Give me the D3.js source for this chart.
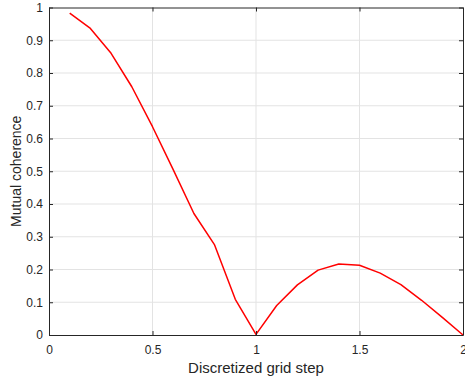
<!DOCTYPE html>
<html>
<head>
<meta charset="utf-8">
<script src="https://cdn.jsdelivr.net/npm/d3@7"></script>
<style>
  html, body { margin: 0; padding: 0; background: #fff; }
  svg { display: block; font-family: "Liberation Sans", Arial, Helvetica, sans-serif; }
</style>
</head>
<body>
<svg id="chart" width="465" height="384"></svg>
<script>
// Mutual coherence as a function of the discretized grid step
const gridStep = [0.1, 0.2, 0.3, 0.4, 0.5, 0.6, 0.7, 0.8, 0.9, 1.0,
                  1.1, 1.2, 1.3, 1.4, 1.5, 1.6, 1.7, 1.8, 1.9, 2.0];
const coherence = [0.983, 0.936, 0.860, 0.758, 0.636, 0.505, 0.371, 0.275, 0.109, 0.002,
                   0.090, 0.153, 0.198, 0.217, 0.213, 0.189, 0.154, 0.106, 0.054, 0.0];
const xTicks = [0, 0.5, 1, 1.5, 2];
const yTicks = [0, 0.1, 0.2, 0.3, 0.4, 0.5, 0.6, 0.7, 0.8, 0.9, 1];
const xLabel = "Discretized grid step";
const yLabel = "Mutual coherence";

const svg = d3.select("#chart");
const m = { left: 49, right: 463, top: 7.5, bottom: 335 };

const x = d3.scaleLinear().domain([0, 2]).range([m.left, m.right]);
const y = d3.scaleLinear().domain([0, 1]).range([m.bottom, m.top]);

const axisColor = "#262626";
const gridColor = "#e3e3e3";
const tickFmt = d => d3.format("")(+d.toFixed(2));

// grid lines
const grid = svg.append("g");
grid.selectAll(".gx").data(xTicks.slice(1, -1)).join("line")
  .attr("x1", d => x(d)).attr("x2", d => x(d))
  .attr("y1", m.top).attr("y2", m.bottom)
  .attr("stroke", gridColor).attr("stroke-width", 1);
grid.selectAll(".gy").data(yTicks.slice(1, -1)).join("line")
  .attr("x1", m.left).attr("x2", m.right)
  .attr("y1", d => y(d)).attr("y2", d => y(d))
  .attr("stroke", gridColor).attr("stroke-width", 1);

// data line
const line = d3.line().x((d, i) => x(gridStep[i])).y(d => y(d));
svg.append("path")
  .datum(coherence)
  .attr("d", line)
  .attr("fill", "none")
  .attr("stroke", "#ff0000")
  .attr("stroke-width", 1.5)
  .attr("stroke-linejoin", "round");

// axes (ticks pointing inward, box style)
function styleAxis(g) {
  g.select(".domain").attr("stroke", axisColor).attr("stroke-width", 1);
  g.selectAll(".tick line").attr("stroke", axisColor);
  g.selectAll(".tick text").attr("fill", "#262626").attr("font-size", "12px")
    .attr("font-family", "'Liberation Sans', Arial, sans-serif");
}

const xAxis = svg.append("g").attr("transform", `translate(0,${m.bottom})`)
  .call(d3.axisBottom(x).tickValues(xTicks).tickFormat(tickFmt).tickSizeInner(-4).tickSizeOuter(0).tickPadding(10));
styleAxis(xAxis);

const xAxisTop = svg.append("g").attr("transform", `translate(0,${m.top})`)
  .call(d3.axisTop(x).tickValues(xTicks).tickFormat("").tickSizeInner(-4).tickSizeOuter(0));
styleAxis(xAxisTop);

const yAxis = svg.append("g").attr("transform", `translate(${m.left},0)`)
  .call(d3.axisLeft(y).tickValues(yTicks).tickFormat(tickFmt).tickSizeInner(-4).tickSizeOuter(0).tickPadding(6));
styleAxis(yAxis);

const yAxisRight = svg.append("g").attr("transform", `translate(${m.right},0)`)
  .call(d3.axisRight(y).tickValues(yTicks).tickFormat("").tickSizeInner(-4).tickSizeOuter(0));
styleAxis(yAxisRight);

// axis titles
svg.append("text")
  .attr("x", (m.left + m.right) / 2).attr("y", 373)
  .attr("text-anchor", "middle")
  .attr("font-size", "15px").attr("fill", "#262626")
  .text(xLabel);

svg.append("text")
  .attr("transform", `translate(20.5,${(m.top + m.bottom) / 2}) rotate(-90)`)
  .attr("text-anchor", "middle")
  .attr("font-size", "14px").attr("fill", "#262626")
  .text(yLabel);
</script>
</body>
</html>
